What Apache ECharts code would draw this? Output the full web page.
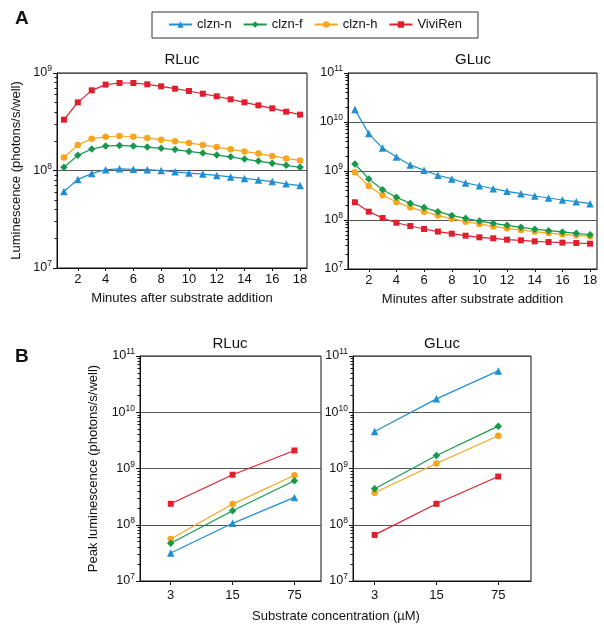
<!DOCTYPE html>
<html><head><meta charset="utf-8">
<script src="https://cdn.jsdelivr.net/npm/echarts@6/dist/echarts.min.js"></script>
<style>html,body{margin:0;padding:0;background:#fff}#c{width:604px;height:629px}</style>
</head><body><div id="c"></div>
<script>
// ---- data ----
const seriesNames = ['clzn-n', 'clzn-f', 'clzn-h', 'ViviRen'];
const minutes = [1,2,3,4,5,6,7,8,9,10,11,12,13,14,15,16,17,18];
const minuteTicks = [2,4,6,8,10,12,14,16,18];
const concentrations = ['3', '15', '75'];

// Panel A, RLuc (photons/s/well)
const aRlucN = [6.1e7,8.1e7,9.3e7,1.02e8,1.04e8,1.03e8,1.02e8,1.0e8,9.7e7,9.4e7,9.2e7,8.9e7,8.6e7,8.3e7,8.0e7,7.7e7,7.3e7,7.0e7];
const aRlucF = [1.08e8,1.43e8,1.66e8,1.78e8,1.81e8,1.78e8,1.74e8,1.69e8,1.64e8,1.57e8,1.51e8,1.44e8,1.38e8,1.31e8,1.25e8,1.19e8,1.13e8,1.08e8];
const aRlucH = [1.36e8,1.83e8,2.12e8,2.22e8,2.26e8,2.22e8,2.15e8,2.07e8,1.99e8,1.91e8,1.83e8,1.74e8,1.65e8,1.57e8,1.49e8,1.41e8,1.33e8,1.27e8];
const aRlucV = [3.32e8,5.0e8,6.64e8,7.6e8,7.9e8,7.9e8,7.66e8,7.3e8,6.9e8,6.54e8,6.13e8,5.77e8,5.37e8,5.0e8,4.66e8,4.34e8,4.01e8,3.74e8];

// Panel A, GLuc
const aGlucN = [1.79e10,5.8e9,2.94e9,1.93e9,1.33e9,1.03e9,8.2e8,6.9e8,5.7e8,5.0e8,4.35e8,3.85e8,3.44e8,3.09e8,2.81e8,2.56e8,2.37e8,2.15e8];
const aGlucF = [1.39e9,6.9e8,4.16e8,2.9e8,2.19e8,1.79e8,1.48e8,1.24e8,1.08e8,9.5e7,8.55e7,7.8e7,7.1e7,6.5e7,6.06e7,5.7e7,5.35e7,5.0e7];
const aGlucH = [9.4e8,4.94e8,3.19e8,2.33e8,1.81e8,1.48e8,1.24e8,1.06e8,9.25e7,8.3e7,7.4e7,6.76e7,6.25e7,5.8e7,5.4e7,5.1e7,4.87e7,4.64e7];
const aGlucV = [2.3e8,1.48e8,1.1e8,8.8e7,7.55e7,6.55e7,5.8e7,5.26e7,4.79e7,4.43e7,4.23e7,3.97e7,3.85e7,3.67e7,3.56e7,3.45e7,3.39e7,3.29e7];

// Panel B, peak luminescence vs substrate concentration
const bRlucN = [3.15e7,1.06e8,3.06e8];
const bRlucF = [4.7e7,1.77e8,6.05e8];
const bRlucH = [5.6e7,2.33e8,7.6e8];
const bRlucV = [2.36e8,7.75e8,2.09e9];
const bGlucN = [4.53e9,1.73e10,5.43e10];
const bGlucF = [4.37e8,1.70e9,5.66e9];
const bGlucH = [3.71e8,1.23e9,3.81e9];
const bGlucV = [6.6e7,2.36e8,7.2e8];

// ---- styling ----
const colors = ['#1f8fd2', '#17984a', '#f7a41f', '#e01f2e'];
const symbols = ['triangle', 'diamond', 'circle', 'rect'];
const symSizes = [7.5, 7.5, 6.5, 6];
const FONT = 'Liberation Sans, Arial, Helvetica, sans-serif';

function supLabel(v) {
  const e = Math.round(Math.log10(v));
  return '{b|10}{s|' + e + '}';
}
const richSup = {
  b: { fontSize: 12.5, fontFamily: FONT, color: '#111' },
  s: { fontSize: 8.5, fontFamily: FONT, color: '#111', padding: [0, 0, 8, 0] }
};

function yAxis(gridIndex, min, max, name, nameGap) {
  return {
    type: 'log', gridIndex, min, max, logBase: 10,
    name: name || '', nameLocation: 'middle', nameGap: nameGap || 0,
    nameTextStyle: { fontFamily: FONT, fontSize: 13, color: '#111' },
    axisLine: { show: true, onZero: false, lineStyle: { color: '#111', width: 1 } },
    axisTick: { show: true, length: 4, lineStyle: { color: '#111' } },
    minorTick: { show: true, splitNumber: 9, length: 2.5, lineStyle: { color: '#111' } },
    splitLine: { show: true, lineStyle: { color: '#555', width: 1 } },
    axisLabel: { formatter: supLabel, rich: richSup, margin: 5 }
  };
}

function xAxisMinutes(gridIndex) {
  return {
    type: 'value', gridIndex, min: 0.5, max: 18.5,
    name: 'Minutes after substrate addition', nameLocation: 'middle', nameGap: 24,
    nameTextStyle: { fontFamily: FONT, fontSize: 13, color: '#111' },
    axisLine: { show: true, onZero: false, lineStyle: { color: '#111' } },
    axisTick: { show: true, length: 3, customValues: minuteTicks, lineStyle: { color: '#111' } },
    axisLabel: { customValues: minuteTicks, fontFamily: FONT, fontSize: 13, color: '#111', margin: 5 },
    splitLine: { show: false }
  };
}

function xAxisConc(gridIndex, min, max) {
  return {
    type: 'value', gridIndex, min, max,
    axisLine: { show: true, onZero: false, lineStyle: { color: '#111' } },
    axisTick: { show: true, length: 4, customValues: [0, 1, 2], lineStyle: { color: '#111' } },
    axisLabel: { customValues: [0, 1, 2], formatter: v => concentrations[Math.round(v)],
      fontFamily: FONT, fontSize: 13, color: '#111', margin: 8 },
    splitLine: { show: false }
  };
}

const gridBox = { show: true, borderColor: '#111', borderWidth: 1, backgroundColor: 'transparent' };
const grids = [
  Object.assign({ left: 57, top: 73, width: 250, height: 195 }, gridBox),
  Object.assign({ left: 348, top: 73, width: 249, height: 196 }, gridBox),
  Object.assign({ left: 140, top: 356, width: 181, height: 225 }, gridBox),
  Object.assign({ left: 353, top: 356, width: 178, height: 225 }, gridBox)
];

const xAxes = [
  xAxisMinutes(0), xAxisMinutes(1),
  xAxisConc(2, -0.497, 2.43), xAxisConc(3, -0.35, 2.53)
];
const yAxes = [
  yAxis(0, 1e7, 1e9, 'Luminescence (photons/s/well)', 34),
  yAxis(1, 1e7, 1e11),
  yAxis(2, 1e7, 1e11, 'Peak luminescence (photons/s/well)', 40),
  yAxis(3, 1e7, 1e11)
];

const panels = [
  { grid: 0, data: [aRlucN, aRlucF, aRlucH, aRlucV], x: minutes },
  { grid: 1, data: [aGlucN, aGlucF, aGlucH, aGlucV], x: minutes },
  { grid: 2, data: [bRlucN, bRlucF, bRlucH, bRlucV], x: [0, 1, 2] },
  { grid: 3, data: [bGlucN, bGlucF, bGlucH, bGlucV], x: [0, 1, 2] }
];

const series = [];
panels.forEach(p => {
  p.data.forEach((arr, si) => {
    series.push({
      type: 'line', name: seriesNames[si],
      xAxisIndex: p.grid, yAxisIndex: p.grid,
      data: arr.map((v, i) => [p.x[i], v]),
      symbol: symbols[si], symbolSize: symSizes[si],
      showSymbol: true,
      itemStyle: { color: colors[si] },
      lineStyle: { color: colors[si], width: 1.2 },
      z: 10 - si,
      animation: false
    });
  });
});

const txt = (x, y, t, size, weight, align) => ({
  type: 'text', left: x, top: y,
  style: { text: t, fontFamily: FONT, fontSize: size, fontWeight: weight || 'normal', fill: '#111', textAlign: align || 'left' }
});

const option = {
  animation: false,
  backgroundColor: '#fff',
  grid: grids,
  xAxis: xAxes,
  yAxis: yAxes,
  series,
  legend: {
    data: seriesNames, left: 152, top: 12,
    padding: [6, 16, 7, 16], itemGap: 11, itemWidth: 23, itemHeight: 8,
    borderColor: '#333', borderWidth: 1,
    textStyle: { fontFamily: FONT, fontSize: 13, color: '#111' }
  },
  graphic: [
    txt(15, 9, 'A', 19, 'bold'),
    txt(15, 347, 'B', 19, 'bold'),
    { type: 'text', x: 182, y: 52, style: { text: 'RLuc', fontFamily: FONT, fontSize: 15, fill: '#111', align: 'center' } },
    { type: 'text', x: 473, y: 52, style: { text: 'GLuc', fontFamily: FONT, fontSize: 15, fill: '#111', align: 'center' } },
    { type: 'text', x: 230, y: 336, style: { text: 'RLuc', fontFamily: FONT, fontSize: 15, fill: '#111', align: 'center' } },
    { type: 'text', x: 442, y: 336, style: { text: 'GLuc', fontFamily: FONT, fontSize: 15, fill: '#111', align: 'center' } },
    { type: 'text', x: 336, y: 610, style: { text: 'Substrate concentration (µM)', fontFamily: FONT, fontSize: 13, fill: '#111', align: 'center' } }
  ]
};

const chart = echarts.init(document.getElementById('c'), null, { renderer: 'canvas' });
chart.setOption(option);
</script></body></html>
